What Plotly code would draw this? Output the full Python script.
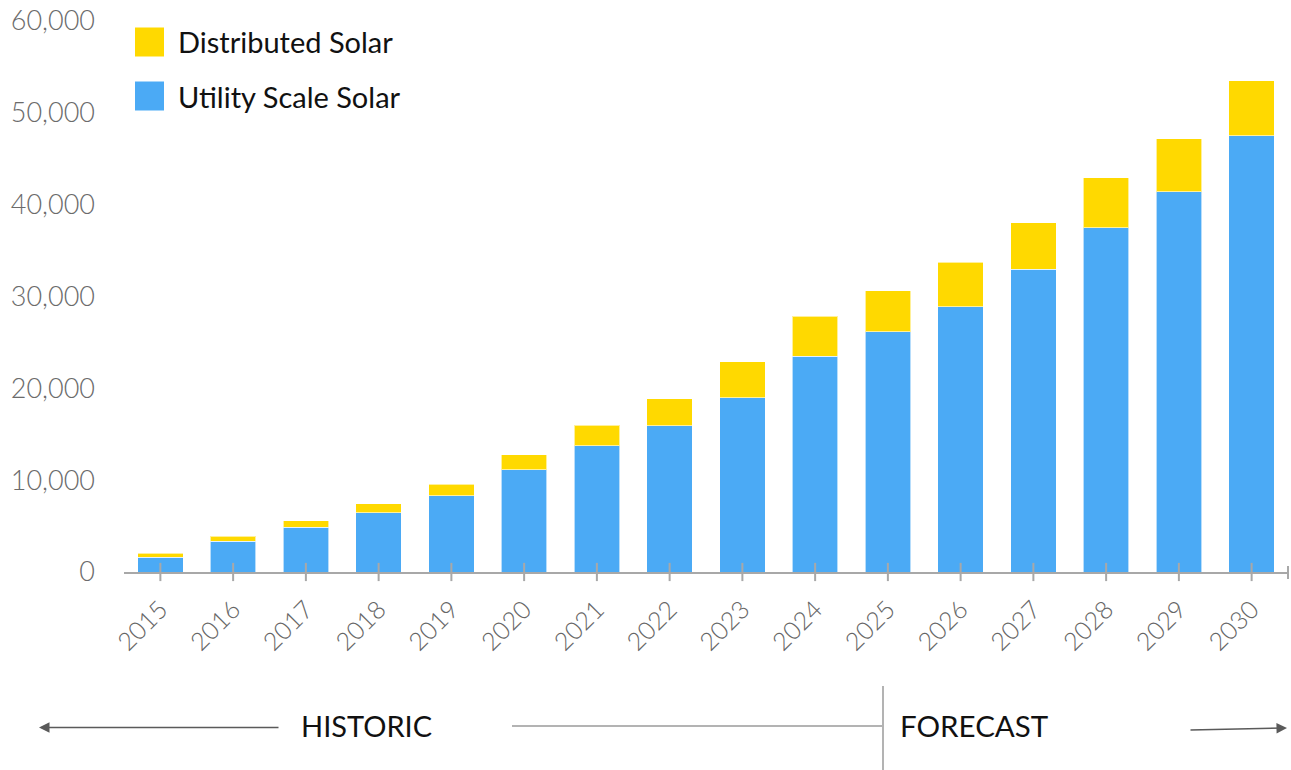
import plotly.graph_objects as go

years = [str(y) for y in range(2015, 2031)]
utility_scale = [1600, 3350, 4870, 6460, 8310, 11110, 13750, 15930,
                 18980, 23520, 26170, 28860, 32960, 37500, 41410, 47480]
distributed = [440, 540, 690, 980, 1240, 1670, 2220, 2940,
               3920, 4320, 4470, 4870, 5080, 5410, 5770, 6020]
y_ticks = [0, 10000, 20000, 30000, 40000, 50000, 60000]

BLUE = "#4BAAF5"
YELLOW = "#FFD900"
AXIS_GREY = "#a8a8a8"
TICK_FONT = dict(family="Lato", size=27, color="#6b6b6b", weight=300)

W, H = 1291, 770
L, R, T, B = 124, 3, 21, 198
PW, PH = W - L - R, H - T - B


def px(x):
    return (x - L) / PW


def py(y):
    return (H - B - y) / PH


fig = go.Figure()
fig.add_trace(go.Bar(x=years, y=utility_scale, name="Utility Scale Solar",
                     marker=dict(color=BLUE, line=dict(color="rgba(255,255,255,0.6)", width=1))))
fig.add_trace(go.Bar(x=years, y=distributed, name="Distributed Solar",
                     marker=dict(color=YELLOW, line=dict(color="rgba(255,255,255,0.6)", width=1))))
# tick marks crossing the baseline at each category
fig.add_trace(go.Scatter(x=years, y=[0] * len(years), mode="markers",
                         marker=dict(symbol="line-ns", size=13,
                                     line=dict(color=AXIS_GREY, width=2)),
                         cliponaxis=False, hoverinfo="skip", showlegend=False))

shapes = [
    # end tick on the right of the axis
    dict(type="line", xref="paper", yref="paper", x0=1, x1=1,
         y0=py(566), y1=py(579), line=dict(color=AXIS_GREY, width=2)),
    # historic / forecast divider and connecting line
    dict(type="line", xref="paper", yref="paper", x0=px(883), x1=px(883),
         y0=py(686), y1=py(770), line=dict(color="#9a9a9a", width=1.5)),
    dict(type="line", xref="paper", yref="paper", x0=px(512), x1=px(882),
         y0=py(726), y1=py(726), line=dict(color="#9a9a9a", width=1.5)),
]

# legend swatches
legend_items = [("Distributed Solar", YELLOW, 42), ("Utility Scale Solar", BLUE, 96)]
for label, color, yc in legend_items:
    shapes.append(dict(type="rect", xref="paper", yref="paper",
                       x0=px(135), x1=px(164), y0=py(yc + 14.5), y1=py(yc - 14.5),
                       fillcolor=color, line=dict(width=0)))

annotations = []
for label, color, yc in legend_items:
    annotations.append(dict(xref="paper", yref="paper", x=px(176), y=py(yc),
                            xanchor="left", yanchor="middle", text=label, showarrow=False,
                            font=dict(family="Lato", size=29, color="#111111")))

annotations += [
    dict(xref="paper", yref="paper", x=px(366), y=py(725), text="HISTORIC",
         showarrow=False, xanchor="center", yanchor="middle",
         font=dict(family="Lato", size=29, color="#111111")),
    dict(xref="paper", yref="paper", x=px(898), y=py(725), text="FORECAST",
         showarrow=False, xanchor="left", yanchor="middle",
         font=dict(family="Lato", size=29.5, color="#111111")),
    # left arrow
    dict(xref="paper", yref="paper", x=px(39), y=py(727.5), ax=241, ay=0,
         axref="pixel", ayref="pixel", text="", showarrow=True,
         arrowhead=2, arrowsize=1.4, arrowwidth=1.5, arrowcolor="#5a5a5a"),
    # right arrow
    dict(xref="paper", yref="paper", x=px(1287), y=py(728), ax=-98, ay=2,
         axref="pixel", ayref="pixel", text="", showarrow=True,
         arrowhead=2, arrowsize=1.4, arrowwidth=1.5, arrowcolor="#5a5a5a"),
]

fig.update_layout(
    width=W, height=H,
    margin=dict(l=L, r=R, t=T, b=B, pad=0),
    barmode="stack", bargap=0.375,
    plot_bgcolor="white", paper_bgcolor="white",
    showlegend=False,
    shapes=shapes, annotations=annotations,
    xaxis=dict(type="category", range=[-0.5, 15.5], showline=True,
               linecolor=AXIS_GREY, linewidth=2, showgrid=False, ticks="",
               tickangle=-45, tickfont=dict(family="Lato", size=25, color="#666666", weight=300),
               ticklabelstandoff=11, zeroline=False),
    yaxis=dict(range=[0, 60000], tickvals=y_ticks,
               ticktext=[f"{v:,}" for v in y_ticks], showgrid=False,
               zeroline=False, showline=False, ticks="",
               tickfont=TICK_FONT, ticklabelstandoff=28),
)

fig.write_html("out.html")
